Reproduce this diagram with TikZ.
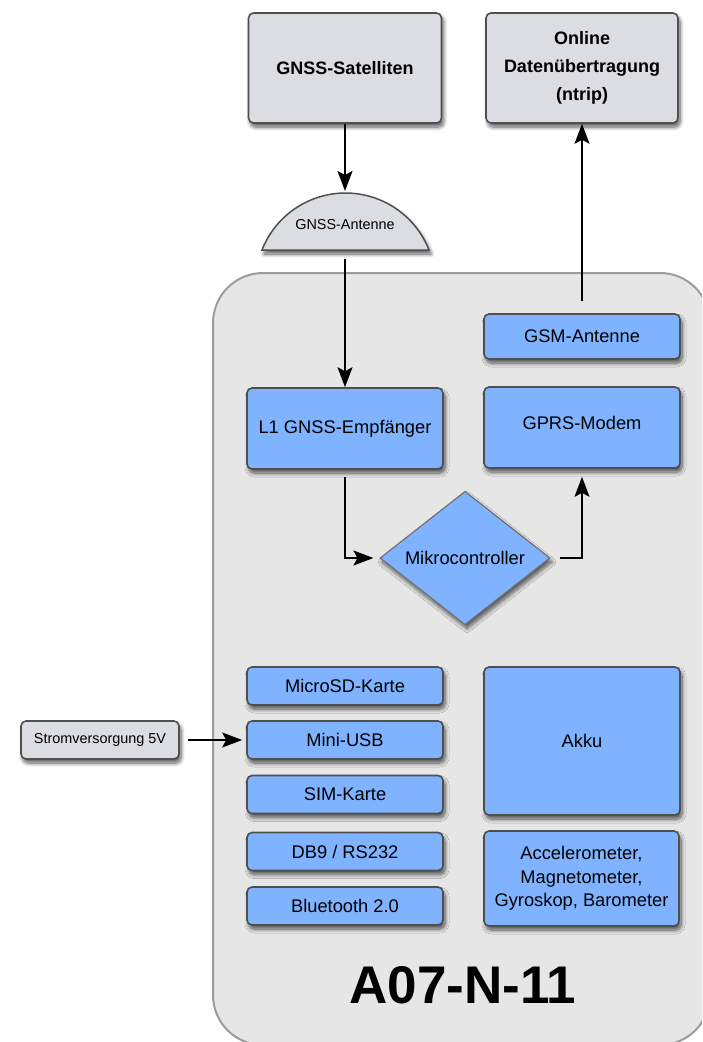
\documentclass[tikz,border=0pt]{standalone}
\usepackage{fontspec}
\setmainfont{Liberation Sans}
\usetikzlibrary{arrows.meta,shapes.geometric,shadows.blur}

\definecolor{boxblue}{HTML}{80B3FF}
\definecolor{boxgray}{HTML}{DCDCE3}
\definecolor{casefill}{HTML}{E6E6E6}
\definecolor{caseline}{HTML}{9C9C9C}
\definecolor{edgegray}{HTML}{4F4F4F}

\tikzset{
  softshadow/.style={blur shadow={shadow xshift=2pt, shadow yshift=-4pt,
      shadow blur steps=8, shadow blur radius=4pt, shadow opacity=65}},
  sized/.style 2 args={minimum width=#1pt, minimum height=#2pt},
  part/.style={draw=edgegray, line width=1.6pt, rounded corners=5pt,
      fill=boxblue, softshadow, align=center, inner sep=0pt,
      font=\fontsize{18.3}{23.5}\selectfont},
  outer/.style={part, fill=boxgray, font=\bfseries\fontsize{18}{28}\selectfont},
  tag/.style={part, fill=boxgray, font=\fontsize{14.4}{17}\selectfont},
  chip/.style={part, shape=diamond, rounded corners=0pt, line width=1.2pt, draw=edgegray!80},
  flow/.style={line width=1.6pt, draw=black, opacity=1, fill opacity=1,
      -{Stealth[length=20pt,width=15pt,inset=4pt,fill=black]}},
}

\begin{document}
\begin{tikzpicture}[x=1pt, y=-1pt]
\useasboundingbox (0,0) rectangle (702,1042);
\clip (0,0) rectangle (702,1042);

% device housing
\draw[fill=casefill, draw=caseline, line width=2pt, rounded corners=50pt]
  (213,273) rectangle (710,1045);

% external blocks
\node[outer, sized={193}{110}] (sat) at (345,68) {GNSS-Satelliten};
\node[outer, sized={192}{110}] (online) at (582,68) {Online\\Datenübertragung\\(ntrip)};

% antenna dome
\path[fill=boxgray, draw=edgegray, line width=1.5pt, softshadow]
  (262,250) arc[start angle=-158.6, end angle=-21.4, radius=89.7] -- cycle;
\node[font=\fontsize{14.4}{17}\selectfont] (ant) at (345,225) {GNSS-Antenne};
\coordinate (anttop) at (345,191);
\coordinate (antbot) at (345,259);

% internal modules
\node[part, sized={196}{45}] (gsm) at (582,336.5) {GSM-Antenne};
\node[part, sized={196}{81}] (l1) at (345,428.5) {L1 GNSS-Empfänger};
\node[part, sized={196}{81}, text depth=9pt] (gprs) at (582,427.5) {GPRS-Modem};
\node[chip, sized={170}{110}] (mc) at (465,558) {Mikrocontroller};

\node[part, sized={196}{38}] (sd)  at (345,686)   {MicroSD-Karte};
\node[part, sized={196}{38}] (usb) at (345,740)   {Mini-USB};
\node[part, sized={196}{38}] (sim) at (345,794.5) {SIM-Karte};
\node[part, sized={196}{38}] (db9) at (345,851.5) {DB9 / RS232};
\node[part, sized={196}{38}] (bt)  at (345,906)   {Bluetooth 2.0};

\node[part, sized={196}{148}] (akku) at (582,741) {Akku};
\node[part, sized={195}{95}] (sens) at (581.5,878.5)
  {Accelerometer,\\Magnetometer,\\Gyroskop, Barometer};

\node[tag, sized={158}{38}] (power) at (100,740) {Stromversorgung 5V};

\node[font=\bfseries\fontsize{53}{60}\selectfont] (model) at (463,985) {A07-N-11};

% signal flow
\draw[flow] (sat.south) -- (anttop);
\draw[flow] (antbot) -- (l1.north);
\draw[flow, shorten <=12pt] (gsm.north) -- (online.south);
\draw[flow, shorten <=7pt, shorten >=6pt] (l1.south) |- (mc.west);
\draw[flow, shorten <=9pt, shorten >=8pt] (mc.east) -| (gprs.south);
\draw[flow, shorten <=8pt, shorten >=4pt] (power.east) -- (usb.west);
\end{tikzpicture}
\end{document}
